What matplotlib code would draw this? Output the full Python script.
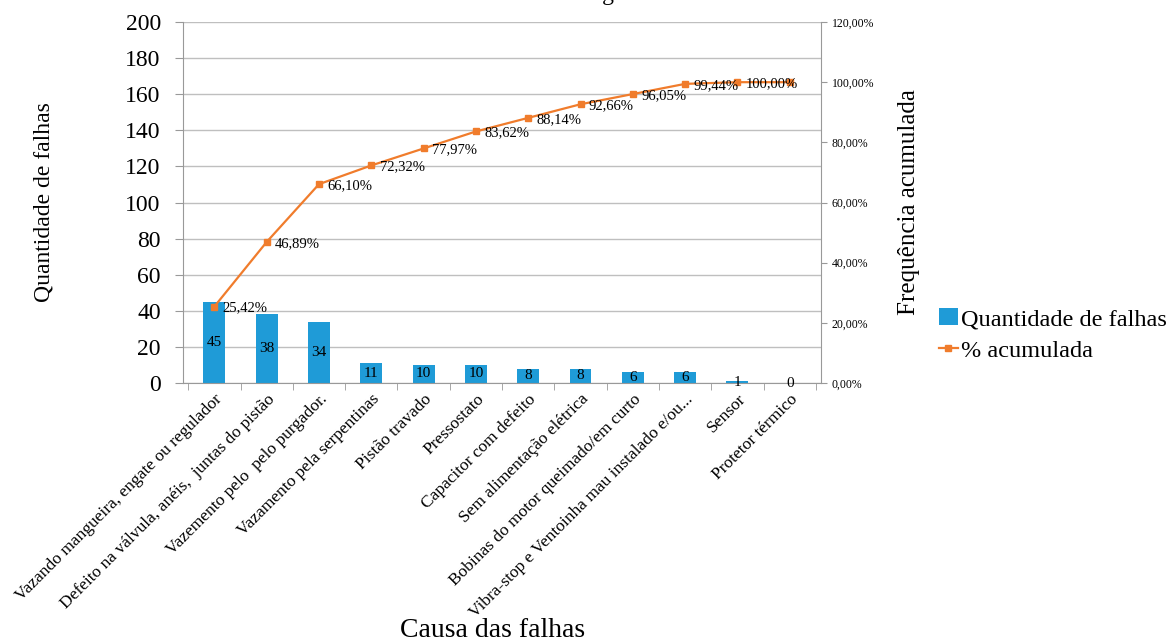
import matplotlib.pyplot as plt
import numpy as np
from matplotlib.ticker import FuncFormatter

plt.rcParams['font.family'] = ['Liberation Serif', 'DejaVu Serif']

causas = ["Vazando mangueira, engate ou regulador",
          "Defeito na válvula, anéis,  juntas do pistão",
          "Vazemento pelo  pelo purgador.",
          "Vazamento pela serpentinas",
          "Pistão travado",
          "Pressostato",
          "Capacitor com defeito",
          "Sem alimentação elétrica",
          "Bobinas do motor queimado/em curto",
          "Vibra-stop e Ventoinha mau instalado e/ou...",
          "Sensor",
          "Protetor térmico"]
falhas = [45, 38, 34, 11, 10, 10, 8, 8, 6, 6, 1, 0]
acumulada = [25.42, 46.89, 66.10, 72.32, 77.97, 83.62, 88.14, 92.66, 96.05, 99.44, 100.00, 100.00]

azul = "#1F9BD7"
laranja = "#F07C2C"
cinza = "#BFBFBF"

fig = plt.figure(figsize=(11.73, 6.42), dpi=100)
ax = fig.add_axes([0.156, 0.4034, 0.544, 0.5623])
ax2 = ax.twinx()

# titulo cortado no topo da imagem original
fig.text(0.564, 1.0, "Diagrama de Pareto", ha='center', va='baseline', fontsize=17)

x = np.arange(len(causas))
bars = ax.bar(x, falhas, width=0.42, color=azul, zorder=2, label="Quantidade de falhas")
for xi, v in zip(x, falhas):
    ax.text(xi, v / 2, str(v), ha='center', va='center', fontsize=11, zorder=3)

ax.set_xlim(-0.6, len(causas) - 0.4)
ax.set_ylim(0, 200)
ax.set_yticks(np.arange(0, 201, 20))
ax.yaxis.grid(True, color=cinza, linewidth=1, zorder=0)
ax.set_axisbelow(True)
ax.tick_params(axis='y', labelsize=17, length=6, color='#999999', pad=10)
ax.set_xticks(x)
ax.set_xticklabels(causas, rotation=45, ha='right', rotation_mode='anchor', fontsize=12.5)
ax.set_xticks(np.arange(-0.5, len(causas), 1), minor=True)
ax.tick_params(axis='x', which='major', length=0, pad=6)
ax.tick_params(axis='x', which='minor', length=5, color='#999999')
for s in ['top', 'right']:
    ax.spines[s].set_visible(False)
ax.spines['left'].set_color('#999999')
ax.spines['bottom'].set_color('#999999')
ax.set_ylabel("Quantidade de falhas", fontsize=17)
ax.yaxis.set_label_coords(-0.202, 0.50)
ax.set_xlabel("Causa das falhas", fontsize=20)
ax.xaxis.set_label_coords(0.485, -0.652)

ln, = ax2.plot(x, acumulada, color=laranja, linewidth=1.6, marker='s', markersize=4.3,
               zorder=4, label="% acumulada")
for xi, v in zip(x[:-1], acumulada[:-1]):
    ax2.annotate(("%.2f%%" % v).replace('.', ','), (xi, v), xytext=(6, -1),
                 textcoords='offset points', ha='left', va='center', fontsize=10.5, zorder=5)
ax2.set_ylim(0, 120)
ax2.set_yticks(np.arange(0, 121, 20))
ax2.yaxis.set_major_formatter(FuncFormatter(lambda v, p: ("%.2f%%" % v).replace('.', ',')))
ax2.tick_params(axis='y', labelsize=8.5, length=4, color='#999999')
for s in ['top', 'left', 'bottom']:
    ax2.spines[s].set_visible(False)
ax2.spines['right'].set_color('#999999')
ax2.set_ylabel("Frequência acumulada", fontsize=18)
ax2.yaxis.set_label_coords(1.121, 0.50)

fig.legend([bars, ln], ["Quantidade de falhas", "% acumulada"], loc='center left',
           bbox_to_anchor=(0.792, 0.478), frameon=False, fontsize=17.5,
           handlelength=0.8, handletextpad=0.1, labelspacing=0.4, borderaxespad=0)

fig.savefig("out.png", dpi=100)
